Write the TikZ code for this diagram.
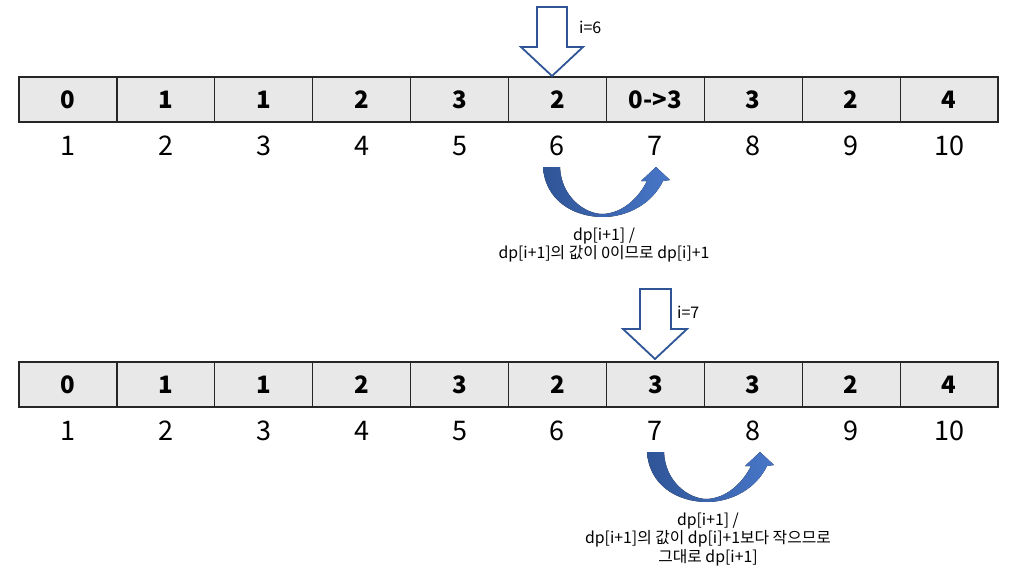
\documentclass[tikz,border=0pt]{standalone}
\usepackage{fontspec}
\setmainfont{Noto Sans CJK KR}
\begin{document}
\begin{tikzpicture}[x=1pt,y=-1pt,
  cellbox/.style={draw=black!85,line width=1.2pt,fill=gray!18,minimum width=97.9pt,minimum height=45pt,inner sep=0pt,outer sep=0pt,font=\fontsize{24}{24}\selectfont\bfseries},
  idx/.style={inner sep=0pt,font=\fontsize{27}{27}\selectfont},
  note/.style={inner sep=0pt,align=center,font=\fontsize{15.8}{18.5}\selectfont},
  ilabel/.style={inner sep=0pt,anchor=west,font=\fontsize{16}{16}\selectfont},
  blockarrow/.style={line width=1.8pt,fill=white,line join=miter},
]
\definecolor{arrowedge}{HTML}{2F5597}
\useasboundingbox (0,0) rectangle (1009,583);
% array 1
\foreach \v [count=\k] in {0,1,1,2,3,2,{0->3},3,2,4}{
  \node[cellbox] (a\k) at ({19+97.9*(\k-0.5)},99.5) {\v};
  \node[idx] (la\k) at ({19+97.9*(\k-0.5)},146) {\k};
}
% array 2
\foreach \v [count=\k] in {0,1,1,2,3,2,3,3,2,4}{
  \node[cellbox] (b\k) at ({19+97.9*(\k-0.5)},384.5) {\v};
  \node[idx] (lb\k) at ({19+97.9*(\k-0.5)},431) {\k};
}
% block arrow 1
\draw[blockarrow,draw=arrowedge] (537,7) -- (567,7) -- (567,47) -- (583,47) -- (552,76) -- (521,47) -- (537,47) -- cycle;
\node[ilabel] (i6) at (579,27) {i=6};
% block arrow 2
\draw[blockarrow,draw=arrowedge] (640,289) -- (671,289) -- (671,329) -- (687,329) -- (655,359) -- (623,329) -- (640,329) -- cycle;
\node[ilabel] (i7) at (677,312) {i=7};
% curved arrows
\foreach \dx/\dy in {0/0,104/285}{
\begin{scope}[shift={(\dx,\dy)}]
\fill[left color={rgb,255:red,47;green,85;blue,151},right color={rgb,255:red,72;green,118;blue,200}]
  (543,167) .. controls (545,200) and (573,217) .. (603,217)
  .. controls (627,217) and (652,204) .. (663,181)
  -- (670,180) -- (656,167) -- (641,181) -- (647,181)
  .. controls (638,199) and (622,213) .. (603,214)
  .. controls (584,214) and (561,196) .. (560,167) -- cycle;
\end{scope}
}
\node[note] (n1) at (604,245) {dp[i+1] /\\dp[i+1]의 값이 0이므로 dp[i]+1};
\node[note] (n2) at (708,539.5) {dp[i+1] /\\dp[i+1]의 값이 dp[i]+1보다 작으므로\\그대로 dp[i+1]};
\end{tikzpicture}
\end{document}
